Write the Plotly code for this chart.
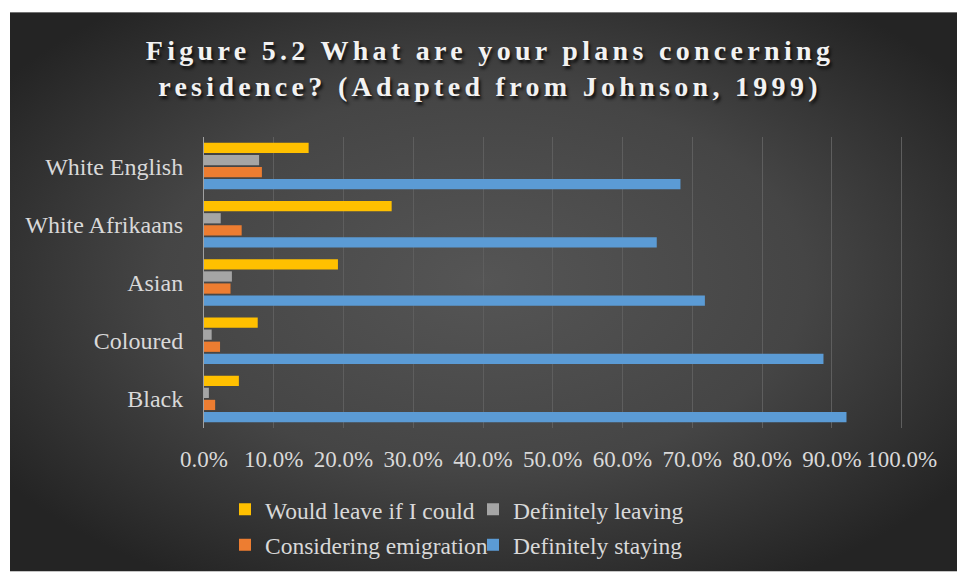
import base64
import plotly.graph_objects as go

categories = ["White English", "White Afrikaans", "Asian", "Coloured", "Black"]
would_leave = [0.150, 0.269, 0.192, 0.077, 0.050]
def_leaving = [0.079, 0.024, 0.040, 0.011, 0.007]
considering = [0.083, 0.054, 0.038, 0.023, 0.016]
def_staying = [0.683, 0.649, 0.718, 0.888, 0.921]
x_ticks = [0, 0.1, 0.2, 0.3, 0.4, 0.5, 0.6, 0.7, 0.8, 0.9, 1.0]

series = [
    ("Would leave if I could", would_leave, "#FFC000", "legend"),
    ("Definitely leaving", def_leaving, "#A5A5A5", "legend"),
    ("Considering emigration", considering, "#ED7D31", "legend2"),
    ("Definitely staying", def_staying, "#5B9BD5", "legend2"),
]

W, H = 957, 579
ML, MR, MT, MB = 204, 54, 137, 146
PW, PH = W - ML - MR, H - MT - MB

FONT = "Liberation Serif"
TXT = "#d9d9d9"

fig = go.Figure()
for name, vals, color, lg in series:
    fig.add_trace(go.Bar(
        y=categories, x=vals, name=name, orientation="h",
        marker=dict(color=color, line=dict(width=0)),
        legend=lg,
    ))

svg = ('<svg xmlns="http://www.w3.org/2000/svg" width="947" height="569" preserveAspectRatio="none">'
       '<defs><radialGradient id="g" cx="50%" cy="48%" r="62%">'
       '<stop offset="0" stop-color="#555555"/><stop offset="0.55" stop-color="#454545"/>'
       '<stop offset="1" stop-color="#242424"/></radialGradient></defs>'
       '<rect width="947" height="569" fill="url(#g)"/></svg>')
src = "data:image/svg+xml;base64," + base64.b64encode(svg.encode()).decode()

fig.add_layout_image(dict(
    source=src, xref="paper", yref="paper",
    x=(10 - ML) / PW, y=(H - MB - 10) / PH,
    sizex=947 / PW, sizey=569 / PH,
    xanchor="left", yanchor="top", sizing="stretch", layer="below",
))

fig.update_layout(
    width=W, height=H,
    margin=dict(l=ML, r=MR, t=MT, b=MB, pad=0),
    paper_bgcolor="white", plot_bgcolor="rgba(0,0,0,0)",
    barmode="group", bargap=0.17, bargroupgap=0.15,
    font=dict(family=FONT, size=23, color=TXT),
    title=dict(
        text="Figure 5.2 What are your plans concerning<br>residence? (Adapted from Johnson, 1999)",
        x=490 / W, xanchor="center", xref="container",
        y=1 - 60 / H, yanchor="middle", yref="container",
        font=dict(family=FONT, size=28, color="#f2f2f2", weight="bold",
                  shadow="2px 3px 3px #101010"),
    ),
    xaxis=dict(
        range=[0, 1.002], tickvals=x_ticks, tickformat=".1%", tickangle=0,
        showgrid=True, gridcolor="#5e5e5e", gridwidth=1,
        zeroline=False, showline=False, ticks="",
        ticklabelstandoff=15,
        tickfont=dict(family=FONT, size=23, color=TXT),
    ),
    yaxis=dict(
        autorange="reversed", showgrid=False, zeroline=False,
        showline=True, linecolor="#a0a0a0", linewidth=1,
        ticks="", ticklabelstandoff=15,
        tickfont=dict(family=FONT, size=24, color=TXT),
    ),
    legend=dict(
        orientation="h", x=(225 - ML) / PW, xanchor="left",
        y=(H - MB - 516) / PH, yanchor="middle",
        entrywidth=203, bgcolor="rgba(0,0,0,0)",
        font=dict(family=FONT, size=23.5, color=TXT),
    ),
    legend2=dict(
        orientation="h", x=(225 - ML) / PW, xanchor="left",
        y=(H - MB - 552) / PH, yanchor="middle",
        entrywidth=203, bgcolor="rgba(0,0,0,0)",
        font=dict(family=FONT, size=23.5, color=TXT),
    ),
)

post = """
document.body.style.margin = '0';
var t = document.querySelector('.gtitle');
if (t) { t.style.letterSpacing = '4.3px'; }
"""
fig.write_html("out.html", post_script=post, config={"displayModeBar": False})
